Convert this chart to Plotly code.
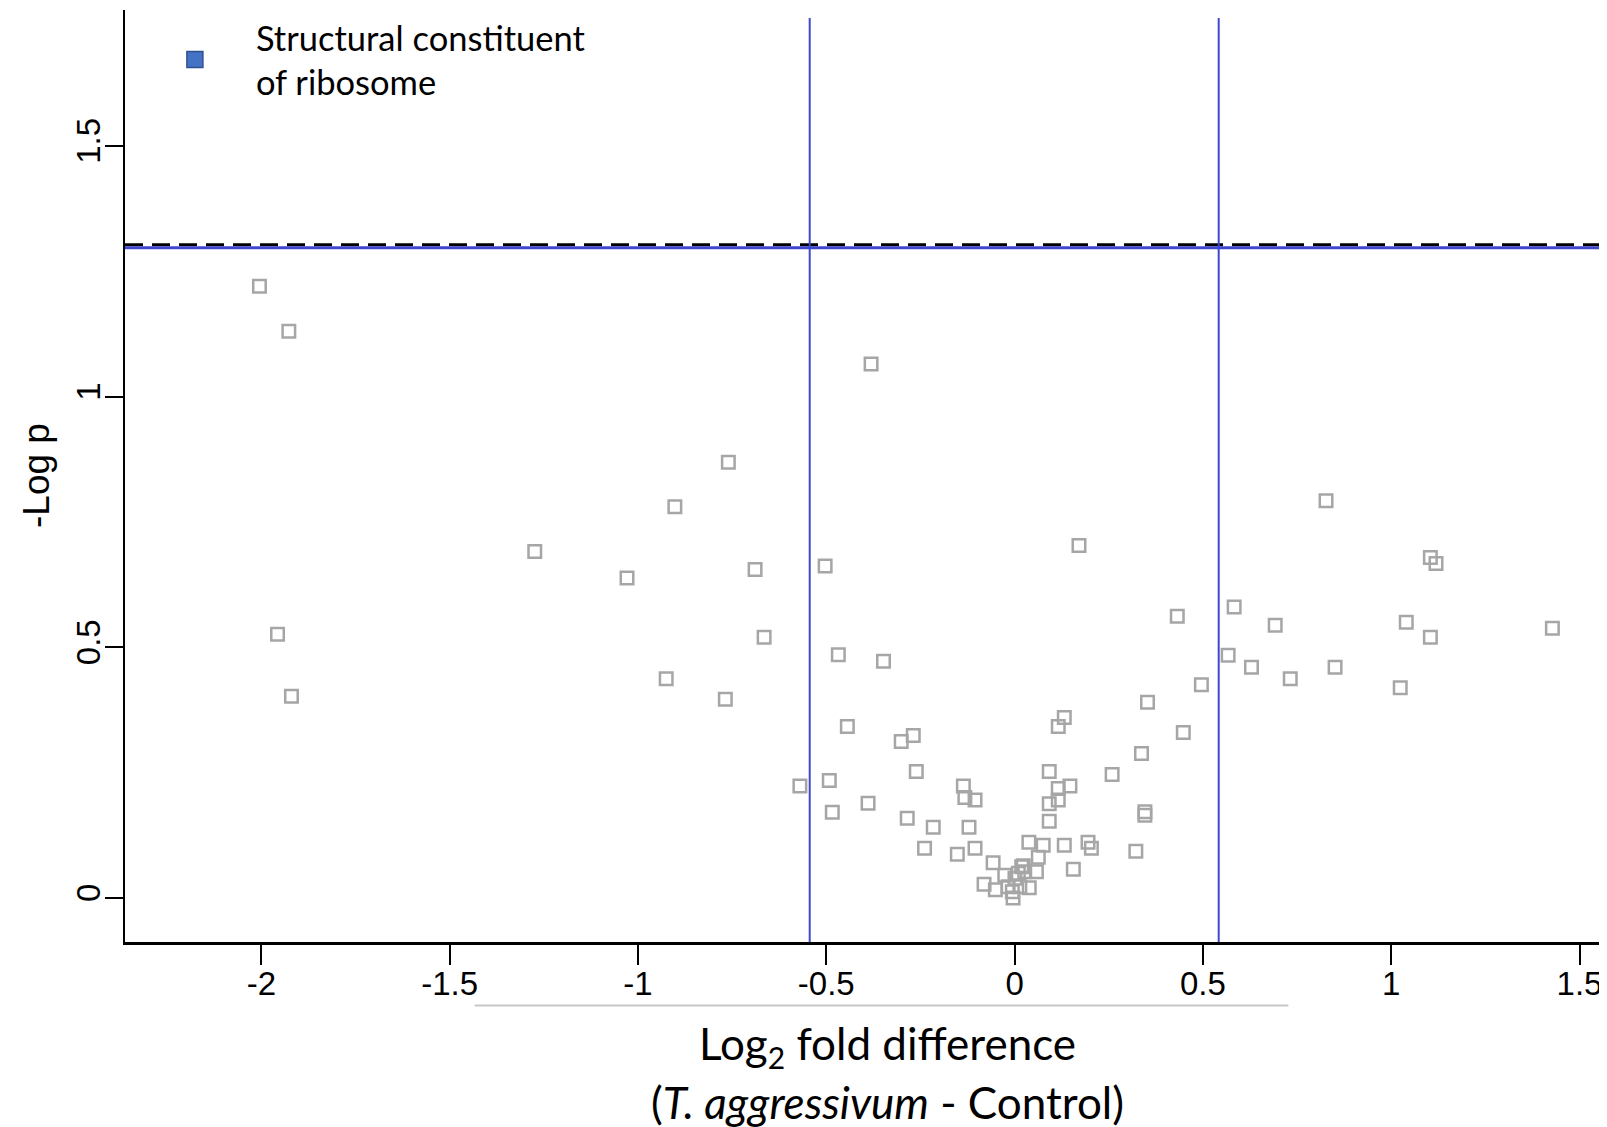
import plotly.graph_objects as go

# ---- data ----
log2_fold = [
    -2.005, -1.927, -1.957, -1.920, -1.274, -1.029, -0.902, -0.925, -0.760, -0.689,
    -0.665, -0.768, -0.381, -0.503, -0.468, -0.348, -0.444, -0.570, -0.492, -0.484,
    -0.389, -0.301, -0.269, -0.261, -0.285, -0.216, -0.239, -0.136, -0.132, -0.105,
    -0.121, -0.105, -0.152, -0.057, -0.081, -0.051, -0.017, -0.004, -0.026, -0.006,
    0.001, 0.010, 0.014, 0.019, 0.023, 0.027, 0.039, 0.038, 0.058, 0.063,
    0.076, 0.092, 0.092, 0.092, 0.116, 0.116, 0.147, 0.116, 0.132, 0.132,
    0.156, 0.195, 0.204, 0.171, 0.259, 0.322, 0.337, 0.346, 0.346, 0.353,
    0.448, 0.496, 0.432, 0.583, 0.567, 0.629, 0.692, 0.732, 0.827, 0.851,
    1.024, 1.040, 1.104, 1.119, 1.104, 1.428,
]
neg_log_p = [
    1.220, 1.130, 0.526, 0.402, 0.691, 0.638, 0.780, 0.437, 0.869, 0.655,
    0.520, 0.396, 1.065, 0.662, 0.485, 0.472, 0.342, 0.223, 0.234, 0.171,
    0.189, 0.312, 0.324, 0.252, 0.159, 0.141, 0.099, 0.223, 0.200, 0.195,
    0.141, 0.099, 0.087, 0.070, 0.027, 0.016, 0.022, 0.000, 0.045, 0.012,
    0.039, 0.049, 0.022, 0.062, 0.064, 0.052, 0.020, 0.111, 0.052, 0.081,
    0.105, 0.153, 0.188, 0.252, 0.195, 0.218, 0.223, 0.342, 0.360, 0.105,
    0.057, 0.111, 0.099, 0.703, 0.246, 0.093, 0.288, 0.172, 0.165, 0.390,
    0.330, 0.425, 0.562, 0.580, 0.484, 0.460, 0.544, 0.437, 0.792, 0.460,
    0.419, 0.550, 0.679, 0.667, 0.520, 0.538,
]
x_tick_vals = [-2, -1.5, -1, -0.5, 0, 0.5, 1, 1.5]
x_tick_text = ["-2", "-1.5", "-1", "-0.5", "0", "0.5", "1", "1.5"]
y_tick_vals = [0, 0.5, 1, 1.5]
y_tick_text = ["0", "0.5", "1", "1.5"]
sig_dashed = 1.303      # -log10(0.05)
sig_blue = 1.297
fold_cut_left = -0.544
fold_cut_right = 0.542
legend_name = "Structural constituent<br>of ribosome"

X_RANGE = [-2.362, 1.573]
Y_RANGE = [-0.088, 1.771]

fig = go.Figure()
fig.add_trace(go.Scatter(
    x=log2_fold, y=neg_log_p, mode="markers", showlegend=False,
    marker=dict(symbol="square-open", size=12.5, color="#A6A6A6",
                line=dict(width=2.5, color="#A6A6A6")),
))
fig.add_trace(go.Scatter(
    x=[None], y=[None], mode="markers", name=legend_name, showlegend=True,
    marker=dict(symbol="square", size=19, color="#4472C4",
                line=dict(width=1.5, color="#2F528F")),
))

# threshold lines
fig.add_shape(type="line", xref="x", yref="y", x0=X_RANGE[0], x1=X_RANGE[1],
              y0=sig_dashed, y1=sig_dashed,
              line=dict(color="black", width=3, dash="18px,9px"))
fig.add_shape(type="line", xref="x", yref="y", x0=X_RANGE[0], x1=X_RANGE[1],
              y0=sig_blue, y1=sig_blue, line=dict(color="#3F48CC", width=3))
for xv in (fold_cut_left, fold_cut_right):
    fig.add_shape(type="line", xref="x", yref="y", x0=xv, x1=xv,
                  y0=Y_RANGE[0], y1=1.755, line=dict(color="#3F48CC", width=2))

# light grey rule under tick labels
fig.add_shape(type="line", xref="paper", yref="paper", x0=0.236, x1=0.785,
              y0=-0.068, y1=-0.068, line=dict(color="#C8C8C8", width=2))

tick_font = dict(family="Liberation Sans, Arial, sans-serif", size=33, color="black")

fig.update_xaxes(range=X_RANGE, tickvals=x_tick_vals, ticktext=x_tick_text,
                 showgrid=False, zeroline=False, showline=True, linecolor="black",
                 linewidth=3, ticks="outside", ticklen=20, tickwidth=2,
                 tickcolor="black", tickfont=tick_font, ticklabelstandoff=-10)
fig.update_yaxes(range=Y_RANGE, tickvals=y_tick_vals, ticktext=y_tick_text,
                 showgrid=False, zeroline=False, showline=True, linecolor="black",
                 linewidth=2, ticks="outside", ticklen=18, tickwidth=2,
                 tickcolor="black", tickfont=tick_font, tickangle=-90,
                 ticklabelstandoff=-8)

fig.add_annotation(xref="paper", yref="paper", x=0.5, y=0, yshift=-104, xshift=21,
                   text="Log<sub><span style='font-size:30px'>2</span></sub> fold difference",
                   showarrow=False,
                   font=dict(family="Lato, Calibri, sans-serif", size=44, color="black"),
                   xanchor="center", yanchor="middle")
fig.add_annotation(xref="paper", yref="paper", x=0.5, y=0, yshift=-160, xshift=21,
                   text="(<i>T. aggressivum</i> - Control)", showarrow=False,
                   font=dict(family="Lato, Calibri, sans-serif", size=44, color="black"),
                   xanchor="center", yanchor="middle")
fig.add_annotation(xref="paper", yref="paper", x=0, y=0.5, xshift=-89,
                   text="-Log p", textangle=-90, showarrow=False,
                   font=dict(family="Liberation Sans, Arial, sans-serif", size=37,
                             color="black"),
                   xanchor="center", yanchor="middle")

fig.update_layout(
    width=1599, height=1119,
    margin=dict(l=117, r=0, t=2, b=185),
    paper_bgcolor="white", plot_bgcolor="white",
    legend=dict(x=0.006, y=1.002, xanchor="left", yanchor="top",
                itemwidth=112, valign="middle", bgcolor="rgba(0,0,0,0)",
                font=dict(family="Lato, Calibri, sans-serif", size=34.5, color="black")),
)

fig.write_html("out.html")
